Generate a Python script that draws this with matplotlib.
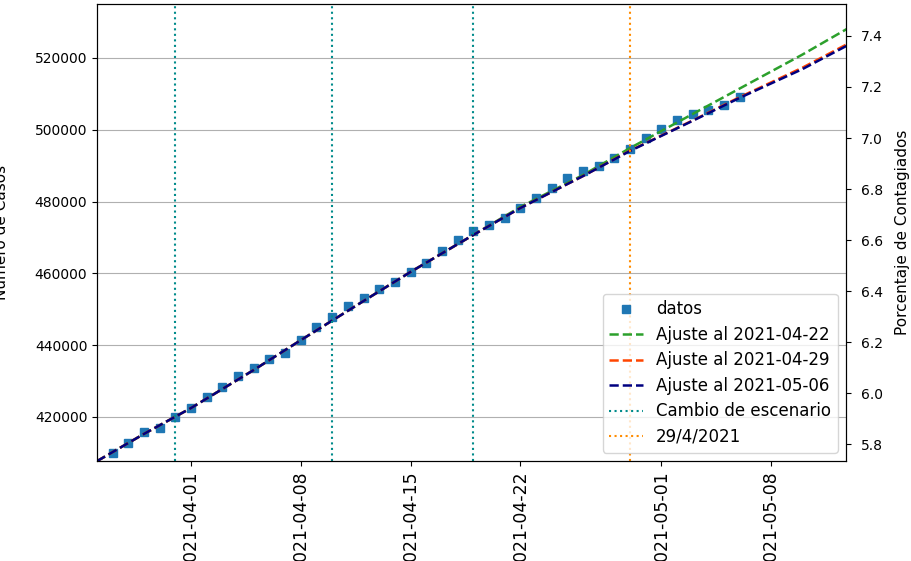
import matplotlib
matplotlib.use("Agg")
import matplotlib.pyplot as plt
import matplotlib.dates as mdates
import pandas as pd

# datos diarios de casos acumulados
fechas = pd.date_range("2021-03-27", "2021-05-06", freq="D")
casos = [410060, 412670, 415900, 417020, 419920, 422420, 425650, 428440, 431500, 433570,
         436150, 437910, 441450, 444990, 447940, 450920, 453230, 455650, 457690, 460300,
         462980, 466240, 469160, 471890, 473480, 475350, 478300, 480920, 483700, 486490,
         488610, 490000, 492060, 494570, 497630, 500140, 502730, 504320, 505520, 506910,
         509220]

# curvas de ajuste
fechas_ajuste = pd.to_datetime(["2021-03-26", "2021-03-29", "2021-04-01", "2021-04-05",
                                "2021-04-08", "2021-04-12", "2021-04-15", "2021-04-19",
                                "2021-04-22", "2021-04-26", "2021-04-29", "2021-05-03",
                                "2021-05-06", "2021-05-10", "2021-05-13"])
ajuste_0422 = [407700, 415300, 422500, 433100, 441400, 452300, 460400, 470700,
               478500, 487400, 494900, 504400, 511500, 520950, 528500]
ajuste_0429 = [407700, 415300, 422500, 433100, 441400, 452300, 460400, 470700,
               478200, 487100, 494200, 502600, 509100, 517300, 524200]
ajuste_0506 = [407700, 415300, 422500, 433100, 441400, 452300, 460400, 470700,
               478200, 487100, 494100, 502500, 508900, 516900, 523800]

cambios = pd.to_datetime(["2021-03-31", "2021-04-10", "2021-04-19"])
fecha_corte = pd.Timestamp("2021-04-29")
poblacion = 7.11e6

fig = plt.figure(figsize=(9.12, 5.61), dpi=100)
ax = fig.add_axes([0.1064, 0.1783, 0.8212, 0.8146])

ax.plot(fechas, casos, 's', color='tab:blue', markersize=6.3, label='datos')
ax.plot(fechas_ajuste, ajuste_0422, '--', color='tab:green', lw=1.8, label='Ajuste al 2021-04-22')
ax.plot(fechas_ajuste, ajuste_0429, '--', color='orangered', lw=1.8, label='Ajuste al 2021-04-29')
ax.plot(fechas_ajuste, ajuste_0506, '--', color='navy', lw=1.8, label='Ajuste al 2021-05-06')
for i, c in enumerate(cambios):
    ax.axvline(c, color='darkcyan', linestyle=':', label='Cambio de escenario' if i == 0 else None)
ax.axvline(fecha_corte, color='darkorange', linestyle=':', label='29/4/2021')

ax.set_xlim(pd.Timestamp("2021-03-26"), pd.Timestamp("2021-05-12 18:40"))
ax.set_ylim(407744, 535042)
ax.xaxis.set_major_locator(mdates.DayLocator(bymonthday=[1, 8, 15, 22]))
ax.xaxis.set_major_formatter(mdates.DateFormatter('%Y-%m-%d'))
ax.tick_params(axis='x', labelrotation=90, labelsize=12.5)
ax.tick_params(axis='y', labelsize=10)
ax.grid(axis='y')
ax.set_ylabel('Número de Casos', fontsize=11)
ax.yaxis.set_label_coords(-0.118, 0.5)
ax.legend(loc='lower right', fontsize=12, labelspacing=0.45)

ax2 = ax.twinx()
y0, y1 = ax.get_ylim()
ax2.set_ylim(y0 / poblacion * 100, y1 / poblacion * 100)
ax2.tick_params(axis='y', labelsize=10, pad=7)
ax2.set_ylabel('Porcentaje de Contagiados', fontsize=11)
ax2.yaxis.set_label_coords(1.065, 0.5)

fig.savefig('out.png', dpi=100)
